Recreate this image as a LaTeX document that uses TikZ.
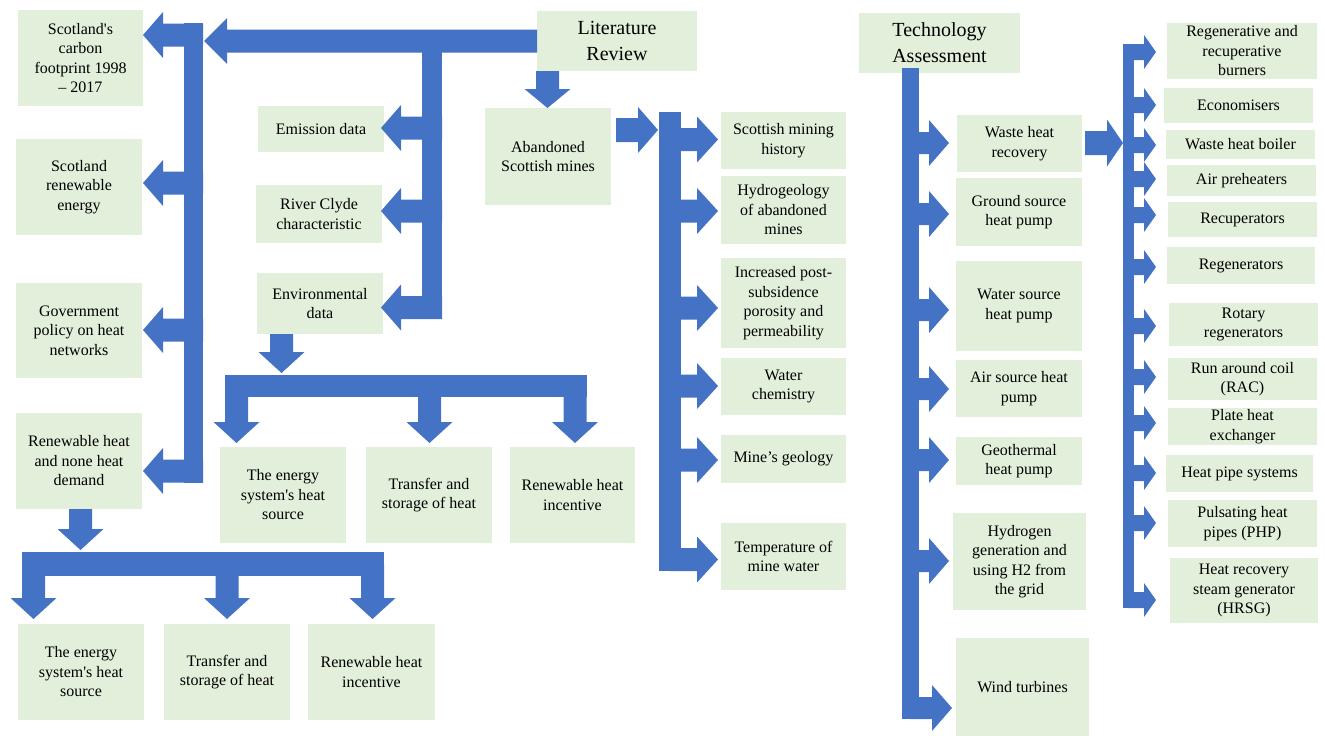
\documentclass[tikz,border=0pt]{standalone}
\usepackage{fontspec}
\setmainfont{Liberation Serif}
\usepackage{tikz}
\definecolor{boxgreen}{HTML}{E2EFDA}
\definecolor{arrowblue}{HTML}{4472C4}
\tikzstyle{greenbox}=[rectangle,fill=boxgreen,align=center,inner sep=0pt,outer sep=0pt,font=\fontsize{16}{19.5}\selectfont]
\tikzstyle{headbox}=[greenbox,font=\fontsize{20}{26}\selectfont]
\tikzstyle{blockarrow}=[fill=arrowblue]

\begin{document}
\begin{tikzpicture}[x=1pt,y=-1pt]

    \useasboundingbox (0,0) rectangle (1325,736);

    % block arrows: tip, length
    \def\arrowleft#1#2{\fill[blockarrow] #1 -- ++(\hl,-\hh) -- ++(0,{\hh-\sw}) -- ++({#2-\hl},0) -- ++(0,{2*\sw}) -- ++({\hl-#2},0) -- ++(0,{\hh-\sw}) -- cycle;}
    \def\arrowright#1#2{\fill[blockarrow] #1 -- ++(-\hl,-\hh) -- ++(0,{\hh-\sw}) -- ++({\hl-#2},0) -- ++(0,{2*\sw}) -- ++({#2-\hl},0) -- ++(0,{\hh-\sw}) -- cycle;}
    \def\arrowdown#1#2{\fill[blockarrow] #1 -- ++(-\hh,-\hl) -- ++({\hh-\sw},0) -- ++(0,{\hl-#2}) -- ++({2*\sw},0) -- ++(0,{#2-\hl}) -- ++({\hh-\sw},0) -- cycle;}

    \foreach \name/\xa/\ya/\xb/\yb/\txt in {
        b1/18/10/143/106/{Scotland\textquotesingle s\\carbon\\footprint 1998\\– 2017},
        b2/16/139/142/235/{Scotland\\renewable\\energy},
        b3/16/283/142/378/{Government\\policy on heat\\networks},
        b4/16/413/142/509/{Renewable heat\\and none heat\\demand},
        c1/18/624/144/720/{The energy\\system\textquotesingle s heat\\source},
        c2/164/624/290/720/{Transfer and\\storage of heat},
        c3/308/624/435/720/{Renewable heat\\incentive},
        e1/258/106/384/152/{Emission data},
        e2/256/185/382/243/{River Clyde\\characteristic},
        e3/257/273/383/334/{Environmental\\data},
        d1/220/447/346/543/{The energy\\system\textquotesingle s heat\\source},
        d2/366/447/492/543/{Transfer and\\storage of heat},
        d3/510/447/635/543/{Renewable heat\\incentive},
        ab/485/108/611/205/{Abandoned\\Scottish mines},
        m1/721/112/846/169/{Scottish mining\\history},
        m2/721/176/846/244/{Hydrogeology\\of abandoned\\mines},
        m3/721/258/846/348/{Increased post-\\subsidence\\porosity and\\permeability},
        m4/721/358/846/415/{Water\\chemistry},
        m5/721/435/846/483/{Mine’s geology},
        m6/721/523/846/590/{Temperature of\\mine water},
        t1/957/115/1082/172/{Waste heat\\recovery},
        t2/956/178/1082/246/{Ground source\\heat pump},
        t3/956/261/1082/351/{Water source\\heat pump},
        t4/956/360/1082/417/{Air source heat\\pump},
        t5/956/437/1082/485/{Geothermal\\heat pump},
        t6/953/513/1086/610/{Hydrogen\\generation and\\using H2 from\\the grid},
        t7/956/638/1089/736/{Wind turbines},
        r1/1167/23/1317/79/{Regenerative and\\recuperative\\burners},
        r2/1164/88/1313/123/{Economisers},
        r3/1166/130/1315/159/{Waste heat boiler},
        r4/1167/165/1316/196/{Air preheaters},
        r5/1168/202/1317/237/{Recuperators},
        r6/1167/247/1315/284/{Regenerators},
        r7/1169/303/1318/346/{Rotary\\regenerators},
        r8/1168/358/1317/400/{Run around coil\\(RAC)},
        r9/1168/408/1317/445/{Plate heat\\exchanger},
        r10/1166/455/1313/492/{Heat pipe systems},
        r11/1168/500/1317/547/{Pulsating heat\\pipes (PHP)},
        r12/1170/558/1318/623/{Heat recovery\\steam generator\\(HRSG)}}
        \node[greenbox, minimum width={(\xb-\xa)*1pt}, minimum height={(\yb-\ya)*1pt}] (\name) at ({(\xa+\xb)/2},{(\ya+\yb)/2}) {\txt};

    \node[headbox, minimum width=160pt, minimum height=60pt] (lit) at (617,41) {Literature\\Review};
    \node[headbox, minimum width=161pt, minimum height=60pt] (tech) at (939.5,43) {Technology\\Assessment};

    % literature review, left part
    \def\hl{23}\def\hh{23}\def\sw{11.5}
    \arrowleft{(204,41)}{333}
    \def\hl{20}
    \fill[blockarrow] (184,23) rectangle (203,483);
    \foreach \y in {35,183,330,471}
        {\arrowleft{(143,\y)}{60}}
    \fill[blockarrow] (422,29.5) rectangle (442,319);
    \foreach \y in {128,211,307.5}
        {\arrowleft{(381,\y)}{61}}

    \def\hl{21}
    \arrowdown{(281.5,373)}{39}
    \fill[blockarrow] (225,375) rectangle (587,397);
    \foreach \x in {236.5,429.5,575}
        {\arrowdown{(\x,443)}{60}}
    \arrowdown{(80.5,550)}{41}
    \fill[blockarrow] (22,552) rectangle (384,576);
    \foreach \x in {33.5,227,372.5}
        {\arrowdown{(\x,619)}{55}}

    % literature review, mines
    \def\hl{19}
    \arrowdown{(547.5,108)}{37}
    \def\hl{20}\def\sw{12}
    \arrowright{(658,130)}{42}
    \fill[blockarrow] (659,112) rectangle (681,571);
    \def\hl{21}\def\sw{11.5}
    \foreach \y in {139.5,211,308,386,460,559.5}
        {\arrowright{(718,\y)}{48}}

    % technology assessment
    \fill[blockarrow] (902,68) rectangle (919,719);
    \def\hl{20}\def\sw{11}
    \foreach \y in {143,214,310,389,460,561}
        {\arrowright{(949,\y)}{39}}
    \arrowright{(952,708)}{42}
    \def\hl{16}\def\hh{23.5}\def\sw{12}
    \arrowright{(1123,143)}{38}
    \fill[blockarrow] (1123,44) rectangle (1134,608);
    \def\hl{12}\def\hh{17}\def\sw{8}
    \foreach \y in {52,105,145,179,215,267,326,377,423,473,523,600}
        {\arrowright{(1156,\y)}{28}}

\end{tikzpicture}
\end{document}
